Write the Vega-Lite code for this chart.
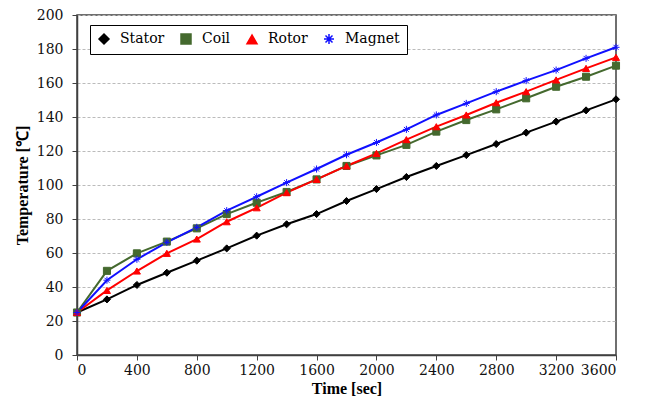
{
  "$schema": "https://vega.github.io/schema/vega-lite/v6.json",
  "width": 539,
  "height": 340,
  "autosize": {"type": "none"},
  "padding": {"left": 77, "top": 15, "right": 32, "bottom": 52},
  "background": "white",
  "config": {
    "font": "Liberation Serif",
    "view": {"stroke": "#404040", "strokeWidth": 1.5},
    "axis": {"labelFont": "DejaVu Serif", "titleFont": "Liberation Serif", "labelFontSize": 14, "titleFontSize": 16, "titleFontWeight": "bold", "labelColor": "#111", "titleColor": "#000", "domainColor": "#404040", "tickColor": "#404040", "domainWidth": 1.5, "tickSize": 5},
    "legend": {"labelFont": "DejaVu Serif", "labelFontSize": 14, "labelColor": "#000"}
  },
  "data": {"values": [
    {"t": 0, "s": "Stator", "v": 25}, {"t": 200, "s": "Stator", "v": 32.7}, {"t": 400, "s": "Stator", "v": 41.2}, {"t": 600, "s": "Stator", "v": 48.4}, {"t": 800, "s": "Stator", "v": 55.5}, {"t": 1000, "s": "Stator", "v": 62.7}, {"t": 1200, "s": "Stator", "v": 70.2}, {"t": 1400, "s": "Stator", "v": 76.9}, {"t": 1600, "s": "Stator", "v": 82.9}, {"t": 1800, "s": "Stator", "v": 90.6}, {"t": 2000, "s": "Stator", "v": 97.6}, {"t": 2200, "s": "Stator", "v": 104.7}, {"t": 2400, "s": "Stator", "v": 111.2}, {"t": 2600, "s": "Stator", "v": 117.6}, {"t": 2800, "s": "Stator", "v": 124.1}, {"t": 3000, "s": "Stator", "v": 130.8}, {"t": 3200, "s": "Stator", "v": 137.3}, {"t": 3400, "s": "Stator", "v": 143.9}, {"t": 3600, "s": "Stator", "v": 150.4},
    {"t": 0, "s": "Coil", "v": 25}, {"t": 200, "s": "Coil", "v": 49.5}, {"t": 400, "s": "Coil", "v": 59.8}, {"t": 600, "s": "Coil", "v": 66.7}, {"t": 800, "s": "Coil", "v": 74.5}, {"t": 1000, "s": "Coil", "v": 82.9}, {"t": 1200, "s": "Coil", "v": 89.6}, {"t": 1400, "s": "Coil", "v": 95.9}, {"t": 1600, "s": "Coil", "v": 103.3}, {"t": 1800, "s": "Coil", "v": 111.2}, {"t": 2000, "s": "Coil", "v": 117.4}, {"t": 2200, "s": "Coil", "v": 123.6}, {"t": 2400, "s": "Coil", "v": 131.4}, {"t": 2600, "s": "Coil", "v": 138.2}, {"t": 2800, "s": "Coil", "v": 144.5}, {"t": 3000, "s": "Coil", "v": 151}, {"t": 3200, "s": "Coil", "v": 157.8}, {"t": 3400, "s": "Coil", "v": 163.7}, {"t": 3600, "s": "Coil", "v": 170.2},
    {"t": 0, "s": "Rotor", "v": 25}, {"t": 200, "s": "Rotor", "v": 38}, {"t": 400, "s": "Rotor", "v": 49.4}, {"t": 600, "s": "Rotor", "v": 59.8}, {"t": 800, "s": "Rotor", "v": 68.2}, {"t": 1000, "s": "Rotor", "v": 78.4}, {"t": 1200, "s": "Rotor", "v": 86.6}, {"t": 1400, "s": "Rotor", "v": 95.5}, {"t": 1600, "s": "Rotor", "v": 103.3}, {"t": 1800, "s": "Rotor", "v": 111.2}, {"t": 2000, "s": "Rotor", "v": 118.6}, {"t": 2200, "s": "Rotor", "v": 126.7}, {"t": 2400, "s": "Rotor", "v": 134.3}, {"t": 2600, "s": "Rotor", "v": 141.2}, {"t": 2800, "s": "Rotor", "v": 148.4}, {"t": 3000, "s": "Rotor", "v": 154.9}, {"t": 3200, "s": "Rotor", "v": 161.8}, {"t": 3400, "s": "Rotor", "v": 168.6}, {"t": 3600, "s": "Rotor", "v": 175.1},
    {"t": 0, "s": "Magnet", "v": 25}, {"t": 200, "s": "Magnet", "v": 44}, {"t": 400, "s": "Magnet", "v": 56.3}, {"t": 600, "s": "Magnet", "v": 66.3}, {"t": 800, "s": "Magnet", "v": 75.1}, {"t": 1000, "s": "Magnet", "v": 84.9}, {"t": 1200, "s": "Magnet", "v": 93.1}, {"t": 1400, "s": "Magnet", "v": 101.4}, {"t": 1600, "s": "Magnet", "v": 109.4}, {"t": 1800, "s": "Magnet", "v": 117.8}, {"t": 2000, "s": "Magnet", "v": 125}, {"t": 2200, "s": "Magnet", "v": 132.7}, {"t": 2400, "s": "Magnet", "v": 141.2}, {"t": 2600, "s": "Magnet", "v": 148}, {"t": 2800, "s": "Magnet", "v": 154.9}, {"t": 3000, "s": "Magnet", "v": 161.4}, {"t": 3200, "s": "Magnet", "v": 167.6}, {"t": 3400, "s": "Magnet", "v": 174.5}, {"t": 3600, "s": "Magnet", "v": 181}
  ]},
  "encoding": {
    "x": {"field": "t", "type": "quantitative", "title": "Time [sec]", "scale": {"domain": [0, 3600], "nice": false}, "axis": {"values": [0,400,800,1200,1600,2000,2400,2800,3200,3600], "format": "d", "grid": false, "titlePadding": 3, "labelPadding": 3}},
    "y": {"field": "v", "type": "quantitative", "title": "Temperature [℃]", "scale": {"domain": [0, 200], "nice": false}, "axis": {"values": [0,20,40,60,80,100,120,140,160,180,200], "format": "d", "grid": true, "gridColor": "#bbbbbb", "gridDash": [3, 2], "gridWidth": 1, "titlePadding": 6, "labelPadding": 9}}
  },
  "layer": [
    {
      "mark": {"type": "line", "strokeWidth": 2},
      "encoding": {
        "color": {"field": "s", "type": "nominal", "title": null, "scale": {"domain": ["Stator", "Coil", "Rotor", "Magnet"], "range": ["#000000", "#44692e", "#ff0000", "#1010ff"]}}
      }
    },
    {
      "mark": {"type": "point", "filled": true, "opacity": 1, "strokeWidth": 1},
      "encoding": {
        "color": {"field": "s", "type": "nominal", "title": null, "scale": {"domain": ["Stator", "Coil", "Rotor", "Magnet"], "range": ["#000000", "#44692e", "#ff0000", "#1010ff"]}, "legend": {"orient": "none", "legendX": 13, "legendY": 10, "direction": "horizontal", "strokeColor": "#000", "fillColor": "#fff", "padding": 7, "columnPadding": 13, "symbolSize": 100, "symbolStrokeWidth": 1.5, "labelOffset": 9}},
        "stroke": {"field": "s", "type": "nominal", "title": null, "scale": {"domain": ["Stator", "Coil", "Rotor", "Magnet"], "range": ["#000000", "#44692e", "#ff0000", "#1010ff"]}},
        "shape": {"field": "s", "type": "nominal", "title": null, "scale": {"domain": ["Stator", "Coil", "Rotor", "Magnet"], "range": ["diamond", "square", "triangle-up", "M-1,0L1,0M0,-1L0,1M-0.7,-0.7L0.7,0.7M-0.7,0.7L0.7,-0.7"]}},
        "size": {"value": 50},
        "opacity": {"value": 1}
      }
    }
  ],
  "resolve": {"legend": {"color": "shared", "shape": "shared", "stroke": "shared"}}
}
